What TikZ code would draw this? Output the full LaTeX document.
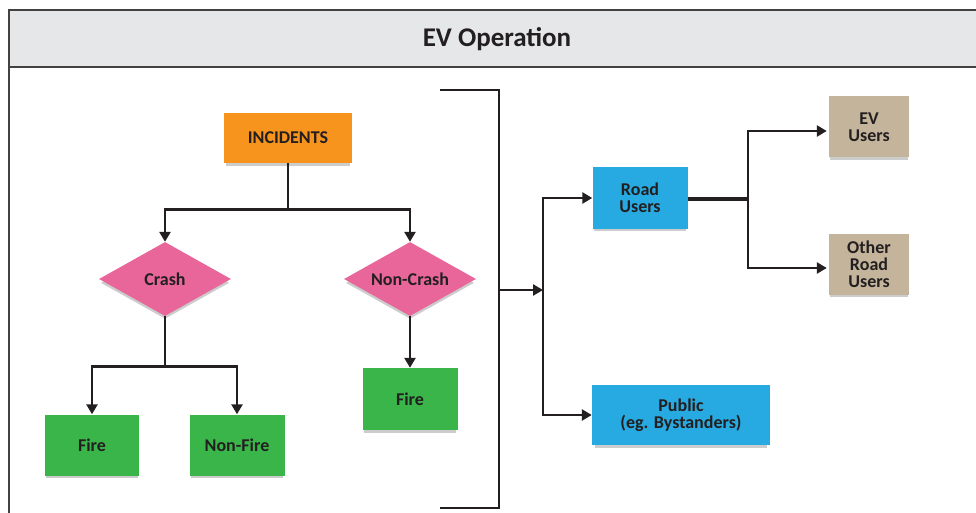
\documentclass[tikz,border=0pt]{standalone}
\usepackage{fontspec}
\setmainfont{Carlito}
\usepackage{tikz}
\usetikzlibrary{shapes.geometric,arrows.meta,shadows}
\definecolor{incorange}{RGB}{247,148,29}
\definecolor{crashpink}{RGB}{233,102,155}
\definecolor{firegreen}{RGB}{58,181,74}
\definecolor{roadblue}{RGB}{39,170,225}
\definecolor{usertan}{RGB}{196,180,155}
\definecolor{headgray}{RGB}{230,231,232}
\definecolor{ink}{RGB}{35,31,32}
\tikzset{>={Triangle[length=10pt,width=11pt]}}
\tikzset{%
    block/.style={%
        rectangle, inner sep=0pt, align=center, text=ink,
        font=\bfseries\fontsize{18}{17}\selectfont,
        drop shadow={shadow xshift=0pt, shadow yshift=-4pt, shadow scale=0.97, opacity=0.2, fill=black}
    },
    decision/.style={%
        diamond, aspect=1.8, inner sep=0pt, fill=crashpink, text=ink,
        minimum width=132pt, minimum height=74pt,
        font=\bfseries\fontsize{18}{17}\selectfont,
        drop shadow={shadow xshift=0pt, shadow yshift=-4pt, shadow scale=0.97, opacity=0.2, fill=black}
    },
    link/.style={draw=ink, line width=2.6pt}
}

\begin{document}
\begin{tikzpicture}[x=1pt,y=-1pt]
\useasboundingbox (0,0) rectangle (976,513);
\draw[line width=2pt, draw=ink!85, fill=headgray] (9,10) rectangle (1000,67);
\draw[line width=2pt, draw=ink!85] (9,67) -- (9,530);
\node[text=ink, font=\bfseries\fontsize{27}{28}\selectfont] (title) at (497,39) {EV Operation};

\node[block, fill=incorange, minimum width=128pt, minimum height=50pt] (incidents) at (288,138) {INCIDENTS};
\node[decision] (crash) at (165,279) {Crash};
\node[decision] (noncrash) at (410,279) {Non-Crash};
\node[block, fill=firegreen, minimum width=94pt, minimum height=61pt] (crashfire) at (92,445) {Fire};
\node[block, fill=firegreen, minimum width=95pt, minimum height=61pt] (nonfire) at (237,445) {Non-Fire};
\node[block, fill=firegreen, minimum width=95pt, minimum height=62pt] (noncrashfire) at (410,399) {Fire};

\node[block, fill=roadblue, minimum width=95pt, minimum height=61pt] (road) at (640,198) {Road\\Users};
\node[block, fill=roadblue, minimum width=178pt, minimum height=60pt] (public) at (681,415) {Public\\(eg. Bystanders)};
\node[block, fill=usertan, minimum width=80pt, minimum height=61pt] (evusers) at (869,127) {EV\\Users};
\node[block, fill=usertan, minimum width=80pt, minimum height=61pt] (otherusers) at (869,264) {Other\\Road\\Users};

\draw[link] (incidents.south) -- ++(0,46) coordinate (incfork);
\draw[link,->] (incfork) -| (crash.north);
\draw[link,->] (incfork) -| (noncrash.north);
\draw[link] (crash.south) -- ++(0,50) coordinate (crashfork);
\draw[link,->] (crashfork) -| (crashfire.north);
\draw[link,->] (crashfork) -| (nonfire.north);
\draw[link,->] (noncrash.south) -- (noncrashfire.north);

\coordinate (brtop) at (440,90);
\coordinate (brbot) at (440,508);
\coordinate (brmid) at (499,290);
\coordinate (split) at (543,290);
\draw[link] (brtop) -| (brmid) |- (brbot);
\draw[link,->] (brmid) -- (split);
\draw[link,->] (split) |- (road.west);
\draw[link,->] (split) |- (public.west);

\coordinate (roadfork) at (748,199);
\draw[draw=ink, line width=3.8pt] (road.east |- roadfork) -- (roadfork);
\draw[link,->,shorten >=2pt] (roadfork) |- ([yshift=-4pt]evusers.west);
\draw[link,->,shorten >=2pt] (roadfork) |- ([yshift=-4pt]otherusers.west);
\end{tikzpicture}
\end{document}
